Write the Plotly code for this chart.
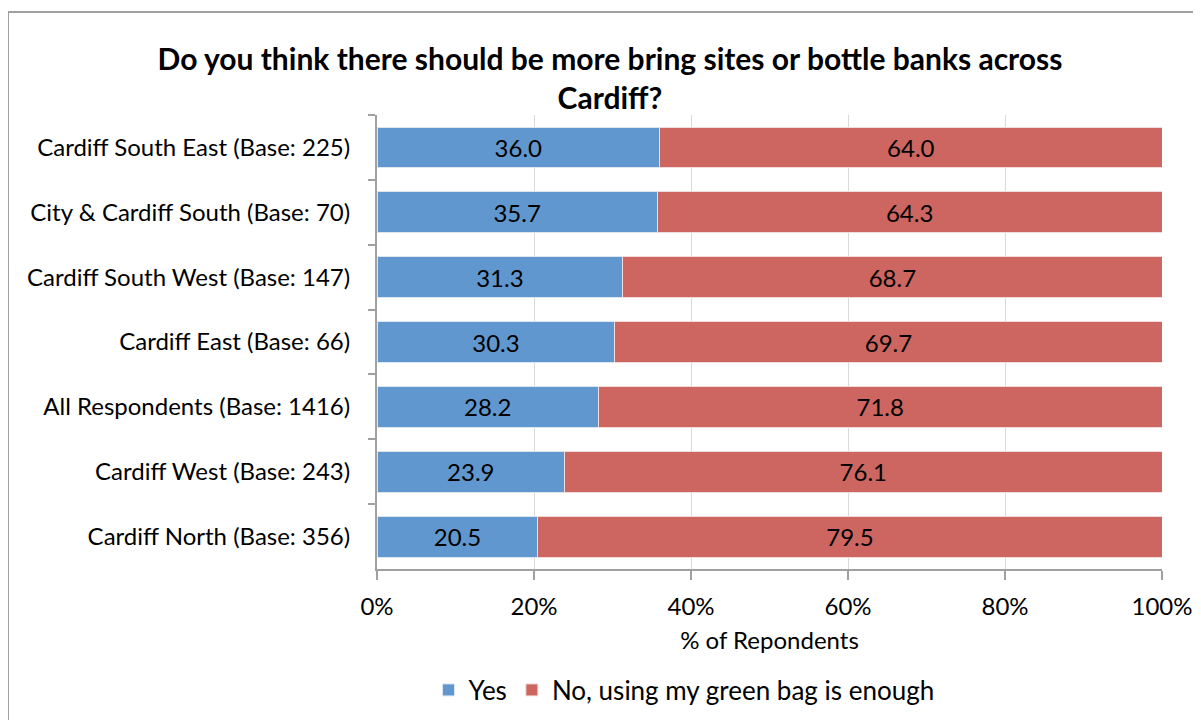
import plotly.graph_objects as go

categories = [
    "Cardiff South East (Base: 225)",
    "City & Cardiff South (Base: 70)",
    "Cardiff South West (Base: 147)",
    "Cardiff East (Base: 66)",
    "All Respondents (Base: 1416)",
    "Cardiff West (Base: 243)",
    "Cardiff North (Base: 356)",
]
yes_values = [36.0, 35.7, 31.3, 30.3, 28.2, 23.9, 20.5]
no_values = [64.0, 64.3, 68.7, 69.7, 71.8, 76.1, 79.5]
x_ticks = [0, 20, 40, 60, 80, 100]
x_tick_labels = ["0%", "20%", "40%", "60%", "80%", "100%"]

FONT = "Lato, Carlito, 'Open Sans', sans-serif"
OFF = 8  # page body margin offset

fig = go.Figure()
fig.add_trace(go.Bar(
    y=categories, x=yes_values, name="Yes", orientation="h",
    marker=dict(color="#6097CE", line=dict(color="#DCE6F1", width=1)),
    text=[f"{v:.1f}" for v in yes_values], textposition="inside",
    insidetextanchor="middle", textfont=dict(color="black", size=24, family=FONT),
))
fig.add_trace(go.Bar(
    y=categories, x=no_values, name="No, using my green bag is enough", orientation="h",
    marker=dict(color="#CD6661", line=dict(color="#F2DCDB", width=1)),
    text=[f"{v:.1f}" for v in no_values], textposition="inside",
    insidetextanchor="middle", textfont=dict(color="black", size=24, family=FONT),
))

W, H = 1201, 720
L = 377 - OFF
T = 115 - OFF
R = W - (1162 - OFF)
B = H - (569 - OFF)
pw, ph = W - L - R, H - T - B

def px_x(x):
    return (x - OFF - L) / pw

def px_y(y):
    return (H - B - (y - OFF)) / ph

fig.update_layout(
    width=W, height=H,
    barmode="stack", bargap=0.37,
    plot_bgcolor="white", paper_bgcolor="white",
    margin=dict(l=L, r=R, t=T, b=B),
    font=dict(family=FONT, size=24, color="black"),
    title=dict(
        text="<b>Do you think there should be more bring sites or bottle banks across<br>Cardiff?</b>",
        x=(610 - OFF) / W, xanchor="center", y=1 - (70 - OFF) / H, yanchor="middle",
        font=dict(size=30, family=FONT, color="black"),
    ),
    xaxis=dict(
        range=[0, 100], tickvals=x_ticks, ticktext=x_tick_labels,
        showgrid=True, gridcolor="#D9D9D9", gridwidth=1,
        showline=True, linecolor="#A0A0A0", linewidth=2,
        ticks="outside", ticklen=9, tickcolor="#A0A0A0", tickwidth=2,
        tickfont=dict(size=24), zeroline=False, ticklabelstandoff=6,
        title=dict(text="% of Repondents", font=dict(size=24), standoff=13),
    ),
    yaxis=dict(
        categoryorder="array", categoryarray=categories, autorange="reversed",
        showline=True, linecolor="#A0A0A0", linewidth=2,
        ticks="outside", ticklen=7, tickcolor="#A0A0A0", tickwidth=2,
        tickson="boundaries", tickfont=dict(size=24), ticklabelstandoff=20,
    ),
    legend=dict(
        orientation="h", x=px_x(684), xanchor="center",
        y=px_y(690), yanchor="middle",
        font=dict(size=26), traceorder="normal",
        itemwidth=30,
    ),
    shapes=[dict(
        type="rect", xref="paper", yref="paper",
        x0=px_x(8), x1=px_x(1215),
        y0=px_y(740), y1=px_y(12),
        line=dict(color="#A0A0A0", width=2), fillcolor="rgba(0,0,0,0)", layer="below",
    )],
)

fig.write_html("out.html")
